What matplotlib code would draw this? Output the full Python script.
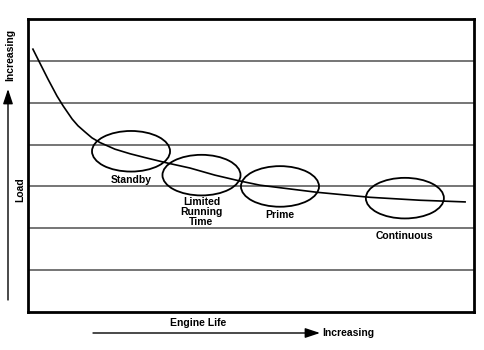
#!/usr/bin/env python3

"""
Generator rating regions: load against engine life.
"""

import matplotlib.pyplot as plt
from matplotlib.patches import Ellipse

plt.rcParams['font.family'] = ['Liberation Sans', 'DejaVu Sans']

# Load / life trade-off curve (life in % of span, load in grid bands)
life = [1.1, 2.7, 4.5, 6.5, 7.9, 9.9, 11.2, 12.8, 14.35, 16.1, 19.5, 22.9,
        26.2, 31.2, 36.3, 41.9, 47.5, 52.0, 57.2, 64.8, 76.7, 87.9, 98.0]
load = [6.28, 5.94, 5.56, 5.16, 4.92, 4.61, 4.45, 4.30, 4.16, 4.05, 3.89,
        3.78, 3.69, 3.56, 3.44, 3.27, 3.13, 3.03, 2.96, 2.86, 2.74, 2.67,
        2.63]

# Rating classes and where they sit on the curve
ratings = ['Standby', 'Limited\nRunning\nTime', 'Prime', 'Continuous']
rating_life = [23.1, 38.9, 56.5, 84.5]
rating_load = [3.84, 3.27, 3.00, 2.72]

# label gap below each ellipse centre, in pixels
label_gap = [24, 22, 24, 33]

fig = plt.figure(figsize=(4.85, 3.5), dpi=100)
ax = fig.add_axes([28 / 485, 38 / 350, 446 / 485, 293 / 350])
ax.set_xlim(0, 100)
ax.set_ylim(0, 7)

for yy in range(1, 7):
    ax.axhline(yy, color='#6a6a6a', lw=1.3, zorder=1)

ax.plot(life, load, color='black', lw=1.2, zorder=3)

for name, x, y, gap in zip(ratings, rating_life, rating_load, label_gap):
    ax.add_patch(Ellipse((x, y), 17.5, 0.97, fill=False,
                         ec='black', lw=1.3, zorder=4))
    ax.annotate(name, (x, y), xytext=(0, -gap), textcoords='offset pixels',
                ha='center', va='top', fontsize=7.5, fontweight='bold',
                linespacing=1.0)

ax.set_xticks([])
ax.set_yticks([])
for s in ax.spines.values():
    s.set_linewidth(2)

# axis arrows drawn in figure pixels
def px(x, y):
    return (x / 485, 1 - y / 350)

arrow = dict(arrowstyle='-|>,head_length=0.9,head_width=0.3',
             color='black', lw=1.0, shrinkA=0, shrinkB=0)
fig.add_artist(plt.Annotation('', xy=px(8, 89), xytext=px(8, 300),
                              xycoords='figure fraction',
                              arrowprops=arrow))
fig.add_artist(plt.Annotation('', xy=px(320, 333), xytext=px(93, 333),
                              xycoords='figure fraction',
                              arrowprops=arrow))

font = dict(fontsize=7.5, fontweight='bold')
fig.text(*px(10, 55), 'Increasing', rotation=90, ha='center', va='center', **font)
fig.text(*px(20, 190), 'Load', rotation=90, ha='center', va='center', **font)
fig.text(*px(198, 323), 'Engine Life', ha='center', va='center', **font)
fig.text(*px(322, 333), 'Increasing', ha='left', va='center', **font)

fig.savefig('out.png', dpi=100)
